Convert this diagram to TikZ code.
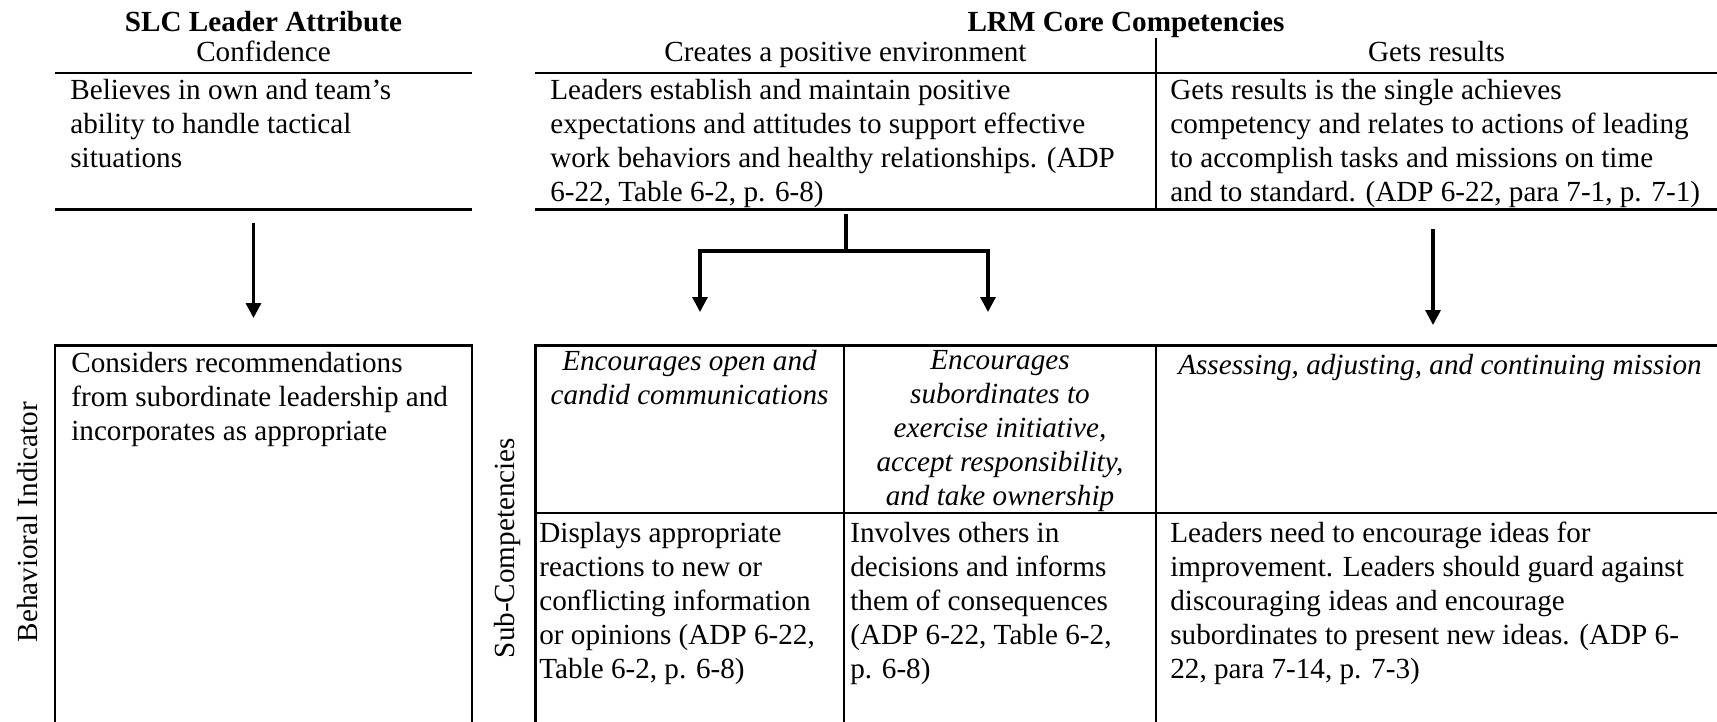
\documentclass[tikz,border=0pt]{standalone}
\usepackage{fontspec}
\setmainfont{Liberation Serif}
\usetikzlibrary{arrows.meta}

\begin{document}
\begin{tikzpicture}[x=0.02cm,y=-0.02cm,
	txt/.style={font=\fontsize{16.6}{19.3}\selectfont, inner sep=0pt, align=left, anchor=north west, execute at begin node=\strut},
	ctxt/.style={txt, align=center, anchor=north, font=\fontsize{16.6}{19.3}\selectfont\itshape},
	head/.style={font=\fontsize{16.6}{19.3}\selectfont, inner sep=0pt, anchor=base},
	side/.style={font=\fontsize{16.6}{19.3}\selectfont, inner sep=0pt, rotate=90},
	rule/.style={line width=1.7pt},
	grid/.style={line width=1.3pt},
	link/.style={line width=1.8pt},
	arr/.style={link, -{Triangle[width=8.5pt,length=8.5pt]}}]
	\useasboundingbox (0,0) rectangle (1717,721);

	% headings
	\node[head] (slchead) at (263.5,31) {\bfseries SLC Leader Attribute};
	\node[head] (confname) at (263.5,61) {Confidence};
	\node[head] (lrmhead) at (1126,31) {\bfseries LRM Core Competencies};
	\node[head] (envname) at (845.5,61) {Creates a positive environment};
	\node[head] (resname) at (1436.5,61) {Gets results};

	% top row
	\draw[rule] (55,73) -- (472,73) (55,209) -- (472,209);
	\draw[rule] (535,73) -- (1720,73) (535,209) -- (1720,209);
	\draw[grid] (1156,38) -- (1156,209);
	\node[txt] (confdef) at (70,79) {Believes in own and team’s\\ability to handle tactical\\situations};
	\node[txt] (envdef) at (550,79) {Leaders establish and maintain positive\\expectations and attitudes to support effective\\work behaviors and healthy relationships. (ADP\\6-22, Table 6-2, p. 6-8)};
	\node[txt] (resdef) at (1170,79) {Gets results is the single achieves\\competency and relates to actions of leading\\to accomplish tasks and missions on time\\and to standard. (ADP 6-22, para 7-1, p. 7-1)};

	% bottom row
	\draw[rule] (55,725) -- (55,345) -- (472,345) -- (472,725);
	\draw[rule] (535,725) -- (535,345) -- (1720,345);
	\draw[grid] (535,513) -- (1720,513);
	\draw[grid] (844,345) -- (844,725) (1156,345) -- (1156,725);
	\node[side] (indlabel) at (28,522) {Behavioral Indicator};
	\node[side] (sublabel) at (507,548) {Sub-Competencies};
	\node[txt] (inddef) at (71,352) {Considers recommendations\\from subordinate leadership and\\incorporates as appropriate};
	\node[ctxt] (openc) at (689.5,350) {Encourages open and\\candid communications};
	\node[ctxt] (initc) at (1000,350) {Encourages\\subordinates to\\exercise initiative,\\accept responsibility,\\and take ownership};
	\node[ctxt] (missc) at (1440,350) {Assessing, adjusting, and continuing mission};
	\node[txt] (opend) at (539,522) {Displays appropriate\\reactions to new or\\conflicting information\\or opinions (ADP 6-22,\\Table 6-2, p. 6-8)};
	\node[txt] (initd) at (850,522) {Involves others in\\decisions and informs\\them of consequences\\(ADP 6-22, Table 6-2,\\p. 6-8)};
	\node[txt] (missd) at (1170,522) {Leaders need to encourage ideas for\\improvement. Leaders should guard against\\discouraging ideas and encourage\\subordinates to present new ideas. (ADP 6-\\22, para 7-14, p. 7-3)};

	% arrows
	\coordinate (confout) at (253.5,223);
	\coordinate (indin) at (253.5,318);
	\coordinate (envout) at (846,214);
	\coordinate (envsplit) at (846,251);
	\coordinate (openin) at (700,312);
	\coordinate (initin) at (988,312);
	\coordinate (resout) at (1433,229);
	\coordinate (missin) at (1433,325);
	\draw[arr] (confout) -- (indin);
	\draw[link] (envout) -- (envsplit);
	\draw[arr] (envsplit) -| (openin);
	\draw[arr] (envsplit) -| (initin);
	\draw[arr] (resout) -- (missin);
\end{tikzpicture}
\end{document}
